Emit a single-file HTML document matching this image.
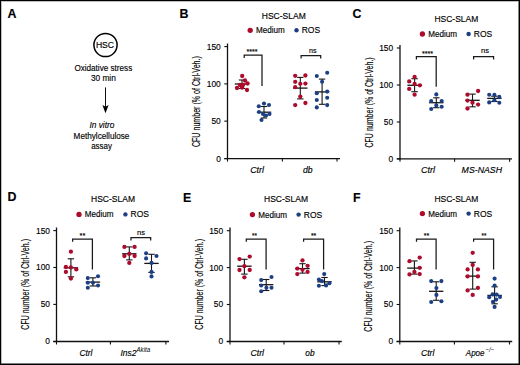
<!DOCTYPE html>
<html><head><meta charset="utf-8"><style>
html,body{margin:0;padding:0;background:#fff;}
svg{display:block;}
text{font-family:"Liberation Sans", sans-serif;stroke:currentColor;stroke-width:0.15px;}
</style></head><body>
<svg width="520" height="365" viewBox="0 0 520 365" font-family='"Liberation Sans", sans-serif'>
<rect x="0" y="0" width="520" height="365" fill="#fff"/>
<text x="7.40" y="18.20" font-size="12.4" font-weight="bold" >A</text>
<circle cx="105.5" cy="45.0" r="11.6" fill="none" stroke="#000" stroke-width="1.5"/>
<text x="95.90" y="48.30" font-size="8.8" textLength="18.20" lengthAdjust="spacingAndGlyphs" >HSC</text>
<text x="74.40" y="70.80" font-size="8.8" textLength="57.80" lengthAdjust="spacingAndGlyphs" >Oxidative stress</text>
<text x="90.90" y="81.30" font-size="8.8" textLength="24.90" lengthAdjust="spacingAndGlyphs" >30 min</text>
<line x1="105.50" y1="87.40" x2="105.50" y2="107.00" stroke="#111" stroke-width="1.0"/>
<polygon points="102.4,104.9 105.5,106.8 108.6,104.9 105.5,113.2" fill="#000"/>
<text x="89.40" y="128.40" font-size="8.8" textLength="25.00" lengthAdjust="spacingAndGlyphs" font-style="italic" >In vitro</text>
<text x="73.60" y="138.60" font-size="8.8" textLength="55.80" lengthAdjust="spacingAndGlyphs" >Methylcellulose</text>
<text x="91.20" y="148.60" font-size="8.8" textLength="20.80" lengthAdjust="spacingAndGlyphs" >assay</text>
<text x="179.60" y="17.90" font-size="12.4" font-weight="bold" >B</text>
<text x="261.80" y="18.60" font-size="8.6" textLength="44.00" lengthAdjust="spacingAndGlyphs" >HSC-SLAM</text>
<circle cx="250.20" cy="30.30" r="2.65" fill="#ad0a2c"/>
<text x="256.00" y="33.30" font-size="8.6" textLength="28.80" lengthAdjust="spacingAndGlyphs" >Medium</text>
<circle cx="296.50" cy="30.30" r="2.2" fill="#1c3f84"/>
<text x="301.70" y="33.30" font-size="8.6" textLength="18.40" lengthAdjust="spacingAndGlyphs" >ROS</text>
<line x1="227.50" y1="43.51" x2="227.50" y2="159.20" stroke="#111" stroke-width="1.3"/>
<line x1="224.30" y1="158.60" x2="340.00" y2="158.60" stroke="#111" stroke-width="1.3"/>
<line x1="224.30" y1="158.60" x2="227.50" y2="158.60" stroke="#111" stroke-width="1.1"/>
<text x="220.80" y="161.55" font-size="9.1" text-anchor="end" textLength="4.67" lengthAdjust="spacingAndGlyphs" >0</text>
<line x1="224.30" y1="121.14" x2="227.50" y2="121.14" stroke="#111" stroke-width="1.1"/>
<text x="220.80" y="124.09" font-size="9.1" text-anchor="end" textLength="9.34" lengthAdjust="spacingAndGlyphs" >50</text>
<line x1="224.30" y1="83.87" x2="227.50" y2="83.87" stroke="#111" stroke-width="1.1"/>
<text x="220.80" y="86.82" font-size="9.1" text-anchor="end" textLength="14.01" lengthAdjust="spacingAndGlyphs" >100</text>
<line x1="224.30" y1="46.61" x2="227.50" y2="46.61" stroke="#111" stroke-width="1.1"/>
<text x="220.80" y="49.56" font-size="9.1" text-anchor="end" textLength="14.01" lengthAdjust="spacingAndGlyphs" >150</text>
<line x1="227.50" y1="158.60" x2="227.50" y2="161.60" stroke="#111" stroke-width="1.1"/>
<line x1="282.40" y1="158.60" x2="282.40" y2="161.60" stroke="#111" stroke-width="1.1"/>
<line x1="337.00" y1="158.60" x2="337.00" y2="161.60" stroke="#111" stroke-width="1.1"/>
<text x="250.20" y="172.90" font-size="8.4" textLength="13.80" lengthAdjust="spacingAndGlyphs" font-style="italic" >Ctrl</text>
<text x="303.00" y="172.90" font-size="8.4" textLength="9.60" lengthAdjust="spacingAndGlyphs" font-style="italic" >db</text>
<text transform="translate(200.30,147.10) rotate(-90)" x="0" y="0" font-size="10.2" textLength="91.00" lengthAdjust="spacingAndGlyphs">CFU number (% of Ctrl-Veh.)</text>
<polyline points="244.20,58.00 244.20,55.10 262.00,55.10 262.00,86.00" fill="none" stroke="#1a1a1a" stroke-width="1.25"/>
<text x="246.40" y="54.30" font-size="7.5" textLength="11.00" lengthAdjust="spacingAndGlyphs" >****</text>
<polyline points="301.10,58.60 301.10,55.70 320.70,55.70 320.70,58.60" fill="none" stroke="#1a1a1a" stroke-width="1.25"/>
<text x="309.00" y="52.70" font-size="8.0" textLength="7.50" lengthAdjust="spacingAndGlyphs" >ns</text>
<line x1="242.00" y1="80.00" x2="242.00" y2="88.50" stroke="#161616" stroke-width="1.1"/>
<line x1="238.80" y1="80.00" x2="245.20" y2="80.00" stroke="#161616" stroke-width="1.1"/>
<line x1="238.80" y1="88.50" x2="245.20" y2="88.50" stroke="#161616" stroke-width="1.1"/>
<line x1="234.80" y1="84.00" x2="249.20" y2="84.00" stroke="#161616" stroke-width="1.3"/>
<circle cx="242.20" cy="76.00" r="2.15" fill="#ad0a2c"/>
<circle cx="245.00" cy="80.50" r="2.15" fill="#ad0a2c"/>
<circle cx="247.50" cy="83.50" r="2.15" fill="#ad0a2c"/>
<circle cx="237.00" cy="88.00" r="2.15" fill="#ad0a2c"/>
<circle cx="240.00" cy="85.00" r="2.15" fill="#ad0a2c"/>
<circle cx="243.00" cy="85.00" r="2.15" fill="#ad0a2c"/>
<circle cx="247.00" cy="90.00" r="2.15" fill="#ad0a2c"/>
<circle cx="242.00" cy="87.50" r="2.15" fill="#ad0a2c"/>
<line x1="264.00" y1="106.50" x2="264.00" y2="118.00" stroke="#161616" stroke-width="1.1"/>
<line x1="260.80" y1="106.50" x2="267.20" y2="106.50" stroke="#161616" stroke-width="1.1"/>
<line x1="260.80" y1="118.00" x2="267.20" y2="118.00" stroke="#161616" stroke-width="1.1"/>
<line x1="256.80" y1="112.20" x2="271.20" y2="112.20" stroke="#161616" stroke-width="1.3"/>
<circle cx="258.80" cy="106.20" r="2.05" fill="#1c3f84"/>
<circle cx="264.00" cy="103.50" r="2.05" fill="#1c3f84"/>
<circle cx="269.00" cy="105.00" r="2.05" fill="#1c3f84"/>
<circle cx="259.00" cy="112.00" r="2.05" fill="#1c3f84"/>
<circle cx="269.50" cy="114.00" r="2.05" fill="#1c3f84"/>
<circle cx="266.00" cy="115.50" r="2.05" fill="#1c3f84"/>
<circle cx="263.00" cy="114.00" r="2.05" fill="#1c3f84"/>
<circle cx="261.50" cy="120.00" r="2.05" fill="#1c3f84"/>
<line x1="300.30" y1="77.40" x2="300.30" y2="98.90" stroke="#161616" stroke-width="1.1"/>
<line x1="297.10" y1="77.40" x2="303.50" y2="77.40" stroke="#161616" stroke-width="1.1"/>
<line x1="297.10" y1="98.90" x2="303.50" y2="98.90" stroke="#161616" stroke-width="1.1"/>
<line x1="293.10" y1="88.10" x2="307.50" y2="88.10" stroke="#161616" stroke-width="1.3"/>
<circle cx="295.20" cy="75.80" r="2.15" fill="#ad0a2c"/>
<circle cx="305.40" cy="75.50" r="2.15" fill="#ad0a2c"/>
<circle cx="295.20" cy="81.80" r="2.15" fill="#ad0a2c"/>
<circle cx="300.30" cy="83.80" r="2.15" fill="#ad0a2c"/>
<circle cx="305.40" cy="83.60" r="2.15" fill="#ad0a2c"/>
<circle cx="295.20" cy="87.20" r="2.15" fill="#ad0a2c"/>
<circle cx="300.30" cy="96.60" r="2.15" fill="#ad0a2c"/>
<circle cx="305.40" cy="103.00" r="2.15" fill="#ad0a2c"/>
<circle cx="295.20" cy="105.10" r="2.15" fill="#ad0a2c"/>
<line x1="322.10" y1="79.10" x2="322.10" y2="104.30" stroke="#161616" stroke-width="1.1"/>
<line x1="318.90" y1="79.10" x2="325.30" y2="79.10" stroke="#161616" stroke-width="1.1"/>
<line x1="318.90" y1="104.30" x2="325.30" y2="104.30" stroke="#161616" stroke-width="1.1"/>
<line x1="314.90" y1="91.90" x2="329.30" y2="91.90" stroke="#161616" stroke-width="1.3"/>
<circle cx="316.80" cy="76.00" r="2.05" fill="#1c3f84"/>
<circle cx="327.20" cy="72.80" r="2.05" fill="#1c3f84"/>
<circle cx="322.10" cy="81.80" r="2.05" fill="#1c3f84"/>
<circle cx="316.80" cy="93.30" r="2.05" fill="#1c3f84"/>
<circle cx="327.20" cy="91.60" r="2.05" fill="#1c3f84"/>
<circle cx="327.20" cy="97.70" r="2.05" fill="#1c3f84"/>
<circle cx="316.80" cy="100.00" r="2.05" fill="#1c3f84"/>
<circle cx="327.20" cy="105.10" r="2.05" fill="#1c3f84"/>
<circle cx="316.80" cy="107.40" r="2.05" fill="#1c3f84"/>
<text x="352.40" y="18.20" font-size="12.4" font-weight="bold" >C</text>
<text x="434.40" y="22.00" font-size="8.6" textLength="44.00" lengthAdjust="spacingAndGlyphs" >HSC-SLAM</text>
<circle cx="422.40" cy="34.00" r="2.65" fill="#ad0a2c"/>
<text x="428.20" y="37.00" font-size="8.6" textLength="28.80" lengthAdjust="spacingAndGlyphs" >Medium</text>
<circle cx="468.60" cy="34.00" r="2.2" fill="#1c3f84"/>
<text x="473.80" y="37.00" font-size="8.6" textLength="18.40" lengthAdjust="spacingAndGlyphs" >ROS</text>
<line x1="400.00" y1="44.90" x2="400.00" y2="159.40" stroke="#111" stroke-width="1.3"/>
<line x1="396.80" y1="158.80" x2="512.00" y2="158.80" stroke="#111" stroke-width="1.3"/>
<line x1="396.80" y1="158.80" x2="400.00" y2="158.80" stroke="#111" stroke-width="1.1"/>
<text x="393.20" y="161.75" font-size="9.1" text-anchor="end" textLength="4.67" lengthAdjust="spacingAndGlyphs" >0</text>
<line x1="396.80" y1="122.00" x2="400.00" y2="122.00" stroke="#111" stroke-width="1.1"/>
<text x="393.20" y="124.95" font-size="9.1" text-anchor="end" textLength="9.34" lengthAdjust="spacingAndGlyphs" >50</text>
<line x1="396.80" y1="85.00" x2="400.00" y2="85.00" stroke="#111" stroke-width="1.1"/>
<text x="393.20" y="87.95" font-size="9.1" text-anchor="end" textLength="14.01" lengthAdjust="spacingAndGlyphs" >100</text>
<line x1="396.80" y1="48.00" x2="400.00" y2="48.00" stroke="#111" stroke-width="1.1"/>
<text x="393.20" y="50.95" font-size="9.1" text-anchor="end" textLength="14.01" lengthAdjust="spacingAndGlyphs" >150</text>
<line x1="400.00" y1="158.80" x2="400.00" y2="161.80" stroke="#111" stroke-width="1.1"/>
<line x1="454.60" y1="158.80" x2="454.60" y2="161.80" stroke="#111" stroke-width="1.1"/>
<line x1="509.60" y1="158.80" x2="509.60" y2="161.80" stroke="#111" stroke-width="1.1"/>
<text x="421.00" y="173.00" font-size="8.4" textLength="14.00" lengthAdjust="spacingAndGlyphs" font-style="italic" >Ctrl</text>
<text x="461.60" y="173.00" font-size="8.4" textLength="40.40" lengthAdjust="spacingAndGlyphs" font-style="italic" >MS-NASH</text>
<text transform="translate(372.70,147.50) rotate(-90)" x="0" y="0" font-size="10.2" textLength="90.20" lengthAdjust="spacingAndGlyphs">CFU number (% of Ctrl-Veh.)</text>
<polyline points="416.40,59.60 416.40,56.50 436.20,56.50 436.20,86.70" fill="none" stroke="#1a1a1a" stroke-width="1.25"/>
<text x="422.00" y="55.60" font-size="7.5" textLength="11.00" lengthAdjust="spacingAndGlyphs" >****</text>
<polyline points="473.60,59.40 473.60,56.60 493.60,56.60 493.60,59.40" fill="none" stroke="#1a1a1a" stroke-width="1.25"/>
<text x="481.00" y="52.90" font-size="8.0" textLength="8.00" lengthAdjust="spacingAndGlyphs" >ns</text>
<line x1="414.60" y1="78.70" x2="414.60" y2="91.70" stroke="#161616" stroke-width="1.1"/>
<line x1="411.40" y1="78.70" x2="417.80" y2="78.70" stroke="#161616" stroke-width="1.1"/>
<line x1="411.40" y1="91.70" x2="417.80" y2="91.70" stroke="#161616" stroke-width="1.1"/>
<line x1="407.40" y1="85.30" x2="421.80" y2="85.30" stroke="#161616" stroke-width="1.3"/>
<circle cx="414.60" cy="76.90" r="2.15" fill="#ad0a2c"/>
<circle cx="409.20" cy="81.40" r="2.15" fill="#ad0a2c"/>
<circle cx="414.60" cy="84.00" r="2.15" fill="#ad0a2c"/>
<circle cx="419.90" cy="85.30" r="2.15" fill="#ad0a2c"/>
<circle cx="409.20" cy="88.90" r="2.15" fill="#ad0a2c"/>
<circle cx="414.60" cy="94.70" r="2.15" fill="#ad0a2c"/>
<line x1="436.30" y1="97.80" x2="436.30" y2="107.70" stroke="#161616" stroke-width="1.1"/>
<line x1="433.10" y1="97.80" x2="439.50" y2="97.80" stroke="#161616" stroke-width="1.1"/>
<line x1="433.10" y1="107.70" x2="439.50" y2="107.70" stroke="#161616" stroke-width="1.1"/>
<line x1="429.10" y1="102.70" x2="443.50" y2="102.70" stroke="#161616" stroke-width="1.3"/>
<circle cx="436.30" cy="94.40" r="2.05" fill="#1c3f84"/>
<circle cx="431.20" cy="101.00" r="2.05" fill="#1c3f84"/>
<circle cx="441.70" cy="101.00" r="2.05" fill="#1c3f84"/>
<circle cx="436.30" cy="105.40" r="2.05" fill="#1c3f84"/>
<circle cx="441.70" cy="106.70" r="2.05" fill="#1c3f84"/>
<circle cx="431.20" cy="109.00" r="2.05" fill="#1c3f84"/>
<line x1="472.50" y1="94.10" x2="472.50" y2="106.80" stroke="#161616" stroke-width="1.1"/>
<line x1="469.30" y1="94.10" x2="475.70" y2="94.10" stroke="#161616" stroke-width="1.1"/>
<line x1="469.30" y1="106.80" x2="475.70" y2="106.80" stroke="#161616" stroke-width="1.1"/>
<line x1="465.30" y1="100.30" x2="479.70" y2="100.30" stroke="#161616" stroke-width="1.3"/>
<circle cx="478.10" cy="91.00" r="2.15" fill="#ad0a2c"/>
<circle cx="467.50" cy="94.70" r="2.15" fill="#ad0a2c"/>
<circle cx="467.50" cy="100.60" r="2.15" fill="#ad0a2c"/>
<circle cx="472.50" cy="102.70" r="2.15" fill="#ad0a2c"/>
<circle cx="478.10" cy="104.60" r="2.15" fill="#ad0a2c"/>
<circle cx="467.50" cy="108.50" r="2.15" fill="#ad0a2c"/>
<line x1="494.40" y1="96.20" x2="494.40" y2="101.50" stroke="#161616" stroke-width="1.1"/>
<line x1="491.20" y1="96.20" x2="497.60" y2="96.20" stroke="#161616" stroke-width="1.1"/>
<line x1="491.20" y1="101.50" x2="497.60" y2="101.50" stroke="#161616" stroke-width="1.1"/>
<line x1="487.20" y1="98.40" x2="501.60" y2="98.40" stroke="#161616" stroke-width="1.3"/>
<circle cx="489.20" cy="94.70" r="2.05" fill="#1c3f84"/>
<circle cx="494.40" cy="94.70" r="2.05" fill="#1c3f84"/>
<circle cx="499.30" cy="96.90" r="2.05" fill="#1c3f84"/>
<circle cx="494.40" cy="100.30" r="2.05" fill="#1c3f84"/>
<circle cx="489.20" cy="102.40" r="2.05" fill="#1c3f84"/>
<circle cx="499.30" cy="102.70" r="2.05" fill="#1c3f84"/>
<text x="7.60" y="201.40" font-size="12.4" font-weight="bold" >D</text>
<text x="91.00" y="201.60" font-size="8.6" textLength="44.00" lengthAdjust="spacingAndGlyphs" >HSC-SLAM</text>
<circle cx="79.00" cy="214.40" r="2.65" fill="#ad0a2c"/>
<text x="84.80" y="217.40" font-size="8.6" textLength="28.80" lengthAdjust="spacingAndGlyphs" >Medium</text>
<circle cx="125.40" cy="214.40" r="2.2" fill="#1c3f84"/>
<text x="130.60" y="217.40" font-size="8.6" textLength="18.40" lengthAdjust="spacingAndGlyphs" >ROS</text>
<line x1="56.50" y1="227.50" x2="56.50" y2="342.10" stroke="#111" stroke-width="1.3"/>
<line x1="53.30" y1="341.50" x2="169.00" y2="341.50" stroke="#111" stroke-width="1.3"/>
<line x1="53.30" y1="341.50" x2="56.50" y2="341.50" stroke="#111" stroke-width="1.1"/>
<text x="50.00" y="344.45" font-size="9.1" text-anchor="end" textLength="4.67" lengthAdjust="spacingAndGlyphs" >0</text>
<line x1="53.30" y1="304.40" x2="56.50" y2="304.40" stroke="#111" stroke-width="1.1"/>
<text x="50.00" y="307.35" font-size="9.1" text-anchor="end" textLength="9.34" lengthAdjust="spacingAndGlyphs" >50</text>
<line x1="53.30" y1="267.50" x2="56.50" y2="267.50" stroke="#111" stroke-width="1.1"/>
<text x="50.00" y="270.45" font-size="9.1" text-anchor="end" textLength="14.01" lengthAdjust="spacingAndGlyphs" >100</text>
<line x1="53.30" y1="230.60" x2="56.50" y2="230.60" stroke="#111" stroke-width="1.1"/>
<text x="50.00" y="233.55" font-size="9.1" text-anchor="end" textLength="14.01" lengthAdjust="spacingAndGlyphs" >150</text>
<line x1="56.50" y1="341.50" x2="56.50" y2="344.50" stroke="#111" stroke-width="1.1"/>
<line x1="110.40" y1="341.50" x2="110.40" y2="344.50" stroke="#111" stroke-width="1.1"/>
<line x1="165.90" y1="341.50" x2="165.90" y2="344.50" stroke="#111" stroke-width="1.1"/>
<text x="79.40" y="355.90" font-size="8.4" textLength="13.00" lengthAdjust="spacingAndGlyphs" font-style="italic" >Ctrl</text>
<text x="120.50" y="355.90" font-size="8.4" textLength="16.00" lengthAdjust="spacingAndGlyphs" font-style="italic" >Ins2</text>
<text x="136.40" y="352.00" font-size="6.3" textLength="13.80" lengthAdjust="spacingAndGlyphs" font-style="italic" style="stroke-width:0">Akita</text>
<text transform="translate(28.60,329.70) rotate(-90)" x="0" y="0" font-size="10.2" textLength="90.70" lengthAdjust="spacingAndGlyphs">CFU number (% of Ctrl-Veh.)</text>
<polyline points="72.60,241.70 72.60,239.20 92.40,239.20 92.40,269.40" fill="none" stroke="#1a1a1a" stroke-width="1.25"/>
<text x="79.60" y="238.10" font-size="7.5" textLength="5.70" lengthAdjust="spacingAndGlyphs" >**</text>
<polyline points="131.00,240.40 131.00,237.60 150.70,237.60 150.70,240.40" fill="none" stroke="#1a1a1a" stroke-width="1.25"/>
<text x="137.00" y="235.20" font-size="8.0" textLength="8.00" lengthAdjust="spacingAndGlyphs" >ns</text>
<line x1="70.90" y1="258.80" x2="70.90" y2="276.80" stroke="#161616" stroke-width="1.1"/>
<line x1="67.70" y1="258.80" x2="74.10" y2="258.80" stroke="#161616" stroke-width="1.1"/>
<line x1="67.70" y1="276.80" x2="74.10" y2="276.80" stroke="#161616" stroke-width="1.1"/>
<line x1="63.70" y1="267.80" x2="78.10" y2="267.80" stroke="#161616" stroke-width="1.3"/>
<circle cx="70.90" cy="251.70" r="2.15" fill="#ad0a2c"/>
<circle cx="65.90" cy="267.00" r="2.15" fill="#ad0a2c"/>
<circle cx="70.90" cy="267.50" r="2.15" fill="#ad0a2c"/>
<circle cx="76.30" cy="269.40" r="2.15" fill="#ad0a2c"/>
<circle cx="65.90" cy="271.90" r="2.15" fill="#ad0a2c"/>
<circle cx="70.90" cy="278.50" r="2.15" fill="#ad0a2c"/>
<line x1="92.90" y1="277.80" x2="92.90" y2="286.00" stroke="#161616" stroke-width="1.1"/>
<line x1="89.70" y1="277.80" x2="96.10" y2="277.80" stroke="#161616" stroke-width="1.1"/>
<line x1="89.70" y1="286.00" x2="96.10" y2="286.00" stroke="#161616" stroke-width="1.1"/>
<line x1="85.70" y1="282.10" x2="100.10" y2="282.10" stroke="#161616" stroke-width="1.3"/>
<circle cx="98.00" cy="276.20" r="2.05" fill="#1c3f84"/>
<circle cx="87.80" cy="278.10" r="2.05" fill="#1c3f84"/>
<circle cx="87.80" cy="282.70" r="2.05" fill="#1c3f84"/>
<circle cx="93.00" cy="282.70" r="2.05" fill="#1c3f84"/>
<circle cx="98.00" cy="285.50" r="2.05" fill="#1c3f84"/>
<circle cx="87.80" cy="287.70" r="2.05" fill="#1c3f84"/>
<line x1="129.30" y1="246.90" x2="129.30" y2="259.90" stroke="#161616" stroke-width="1.1"/>
<line x1="126.10" y1="246.90" x2="132.50" y2="246.90" stroke="#161616" stroke-width="1.1"/>
<line x1="126.10" y1="259.90" x2="132.50" y2="259.90" stroke="#161616" stroke-width="1.1"/>
<line x1="122.10" y1="253.80" x2="136.50" y2="253.80" stroke="#161616" stroke-width="1.3"/>
<circle cx="124.40" cy="246.90" r="2.15" fill="#ad0a2c"/>
<circle cx="134.60" cy="246.90" r="2.15" fill="#ad0a2c"/>
<circle cx="129.30" cy="253.80" r="2.15" fill="#ad0a2c"/>
<circle cx="124.40" cy="256.00" r="2.15" fill="#ad0a2c"/>
<circle cx="134.60" cy="256.00" r="2.15" fill="#ad0a2c"/>
<circle cx="129.30" cy="262.90" r="2.15" fill="#ad0a2c"/>
<line x1="151.50" y1="254.30" x2="151.50" y2="272.40" stroke="#161616" stroke-width="1.1"/>
<line x1="148.30" y1="254.30" x2="154.70" y2="254.30" stroke="#161616" stroke-width="1.1"/>
<line x1="148.30" y1="272.40" x2="154.70" y2="272.40" stroke="#161616" stroke-width="1.1"/>
<line x1="144.30" y1="263.40" x2="158.70" y2="263.40" stroke="#161616" stroke-width="1.3"/>
<circle cx="146.10" cy="253.30" r="2.05" fill="#1c3f84"/>
<circle cx="156.50" cy="256.00" r="2.05" fill="#1c3f84"/>
<circle cx="146.10" cy="258.40" r="2.05" fill="#1c3f84"/>
<circle cx="151.50" cy="262.90" r="2.05" fill="#1c3f84"/>
<circle cx="151.50" cy="271.90" r="2.05" fill="#1c3f84"/>
<circle cx="151.50" cy="276.40" r="2.05" fill="#1c3f84"/>
<text x="183.00" y="201.60" font-size="12.4" font-weight="bold" >E</text>
<text x="264.00" y="201.60" font-size="8.6" textLength="44.00" lengthAdjust="spacingAndGlyphs" >HSC-SLAM</text>
<circle cx="252.40" cy="214.60" r="2.65" fill="#ad0a2c"/>
<text x="258.20" y="217.60" font-size="8.6" textLength="28.80" lengthAdjust="spacingAndGlyphs" >Medium</text>
<circle cx="298.60" cy="214.60" r="2.2" fill="#1c3f84"/>
<text x="303.80" y="217.60" font-size="8.6" textLength="18.40" lengthAdjust="spacingAndGlyphs" >ROS</text>
<line x1="230.00" y1="227.60" x2="230.00" y2="342.10" stroke="#111" stroke-width="1.3"/>
<line x1="226.80" y1="341.50" x2="341.80" y2="341.50" stroke="#111" stroke-width="1.3"/>
<line x1="226.80" y1="341.50" x2="230.00" y2="341.50" stroke="#111" stroke-width="1.1"/>
<text x="223.20" y="344.45" font-size="9.1" text-anchor="end" textLength="4.67" lengthAdjust="spacingAndGlyphs" >0</text>
<line x1="226.80" y1="304.50" x2="230.00" y2="304.50" stroke="#111" stroke-width="1.1"/>
<text x="223.20" y="307.45" font-size="9.1" text-anchor="end" textLength="9.34" lengthAdjust="spacingAndGlyphs" >50</text>
<line x1="226.80" y1="267.60" x2="230.00" y2="267.60" stroke="#111" stroke-width="1.1"/>
<text x="223.20" y="270.55" font-size="9.1" text-anchor="end" textLength="14.01" lengthAdjust="spacingAndGlyphs" >100</text>
<line x1="226.80" y1="230.70" x2="230.00" y2="230.70" stroke="#111" stroke-width="1.1"/>
<text x="223.20" y="233.65" font-size="9.1" text-anchor="end" textLength="14.01" lengthAdjust="spacingAndGlyphs" >150</text>
<line x1="230.00" y1="341.50" x2="230.00" y2="344.50" stroke="#111" stroke-width="1.1"/>
<line x1="284.00" y1="341.50" x2="284.00" y2="344.50" stroke="#111" stroke-width="1.1"/>
<line x1="339.00" y1="341.50" x2="339.00" y2="344.50" stroke="#111" stroke-width="1.1"/>
<text x="250.40" y="355.90" font-size="8.4" textLength="13.60" lengthAdjust="spacingAndGlyphs" font-style="italic" >Ctrl</text>
<text x="305.30" y="355.70" font-size="8.4" textLength="9.20" lengthAdjust="spacingAndGlyphs" font-style="italic" >ob</text>
<text transform="translate(202.70,329.70) rotate(-90)" x="0" y="0" font-size="10.2" textLength="90.70" lengthAdjust="spacingAndGlyphs">CFU number (% of Ctrl-Veh.)</text>
<polyline points="246.30,241.80 246.30,239.20 266.10,239.20 266.10,269.50" fill="none" stroke="#1a1a1a" stroke-width="1.25"/>
<text x="252.10" y="238.40" font-size="7.5" textLength="4.90" lengthAdjust="spacingAndGlyphs" >**</text>
<polyline points="303.60,241.80 303.60,239.10 323.60,239.10 323.60,269.50" fill="none" stroke="#1a1a1a" stroke-width="1.25"/>
<text x="310.90" y="238.10" font-size="7.5" textLength="5.30" lengthAdjust="spacingAndGlyphs" >**</text>
<line x1="244.40" y1="259.30" x2="244.40" y2="274.10" stroke="#161616" stroke-width="1.1"/>
<line x1="241.20" y1="259.30" x2="247.60" y2="259.30" stroke="#161616" stroke-width="1.1"/>
<line x1="241.20" y1="274.10" x2="247.60" y2="274.10" stroke="#161616" stroke-width="1.1"/>
<line x1="237.20" y1="266.20" x2="251.60" y2="266.20" stroke="#161616" stroke-width="1.3"/>
<circle cx="239.50" cy="259.10" r="2.15" fill="#ad0a2c"/>
<circle cx="249.70" cy="256.60" r="2.15" fill="#ad0a2c"/>
<circle cx="244.40" cy="266.20" r="2.15" fill="#ad0a2c"/>
<circle cx="239.50" cy="270.00" r="2.15" fill="#ad0a2c"/>
<circle cx="249.70" cy="270.00" r="2.15" fill="#ad0a2c"/>
<circle cx="244.40" cy="277.30" r="2.15" fill="#ad0a2c"/>
<line x1="266.20" y1="279.50" x2="266.20" y2="290.50" stroke="#161616" stroke-width="1.1"/>
<line x1="263.00" y1="279.50" x2="269.40" y2="279.50" stroke="#161616" stroke-width="1.1"/>
<line x1="263.00" y1="290.50" x2="269.40" y2="290.50" stroke="#161616" stroke-width="1.1"/>
<line x1="259.00" y1="284.70" x2="273.40" y2="284.70" stroke="#161616" stroke-width="1.3"/>
<circle cx="271.50" cy="277.00" r="2.05" fill="#1c3f84"/>
<circle cx="261.20" cy="280.10" r="2.05" fill="#1c3f84"/>
<circle cx="261.20" cy="285.50" r="2.05" fill="#1c3f84"/>
<circle cx="266.40" cy="287.70" r="2.05" fill="#1c3f84"/>
<circle cx="271.50" cy="287.70" r="2.05" fill="#1c3f84"/>
<circle cx="261.20" cy="291.30" r="2.05" fill="#1c3f84"/>
<line x1="302.50" y1="263.70" x2="302.50" y2="273.10" stroke="#161616" stroke-width="1.1"/>
<line x1="299.30" y1="263.70" x2="305.70" y2="263.70" stroke="#161616" stroke-width="1.1"/>
<line x1="299.30" y1="273.10" x2="305.70" y2="273.10" stroke="#161616" stroke-width="1.1"/>
<line x1="295.30" y1="268.60" x2="309.70" y2="268.60" stroke="#161616" stroke-width="1.3"/>
<circle cx="302.50" cy="260.40" r="2.15" fill="#ad0a2c"/>
<circle cx="307.60" cy="265.80" r="2.15" fill="#ad0a2c"/>
<circle cx="297.30" cy="268.60" r="2.15" fill="#ad0a2c"/>
<circle cx="302.50" cy="269.80" r="2.15" fill="#ad0a2c"/>
<circle cx="307.60" cy="271.90" r="2.15" fill="#ad0a2c"/>
<circle cx="297.30" cy="274.10" r="2.15" fill="#ad0a2c"/>
<line x1="324.50" y1="277.50" x2="324.50" y2="285.60" stroke="#161616" stroke-width="1.1"/>
<line x1="321.30" y1="277.50" x2="327.70" y2="277.50" stroke="#161616" stroke-width="1.1"/>
<line x1="321.30" y1="285.60" x2="327.70" y2="285.60" stroke="#161616" stroke-width="1.1"/>
<line x1="317.30" y1="281.80" x2="331.70" y2="281.80" stroke="#161616" stroke-width="1.3"/>
<circle cx="324.20" cy="274.10" r="2.05" fill="#1c3f84"/>
<circle cx="318.90" cy="279.50" r="2.05" fill="#1c3f84"/>
<circle cx="321.90" cy="281.10" r="2.05" fill="#1c3f84"/>
<circle cx="329.40" cy="283.20" r="2.05" fill="#1c3f84"/>
<circle cx="326.10" cy="285.40" r="2.05" fill="#1c3f84"/>
<circle cx="318.90" cy="285.80" r="2.05" fill="#1c3f84"/>
<text x="353.00" y="201.60" font-size="12.4" font-weight="bold" >F</text>
<text x="434.40" y="201.60" font-size="8.6" textLength="44.00" lengthAdjust="spacingAndGlyphs" >HSC-SLAM</text>
<circle cx="422.40" cy="213.60" r="2.65" fill="#ad0a2c"/>
<text x="428.20" y="216.60" font-size="8.6" textLength="28.80" lengthAdjust="spacingAndGlyphs" >Medium</text>
<circle cx="468.60" cy="213.60" r="2.2" fill="#1c3f84"/>
<text x="473.80" y="216.60" font-size="8.6" textLength="18.40" lengthAdjust="spacingAndGlyphs" >ROS</text>
<line x1="399.80" y1="227.60" x2="399.80" y2="342.10" stroke="#111" stroke-width="1.3"/>
<line x1="396.60" y1="341.50" x2="512.20" y2="341.50" stroke="#111" stroke-width="1.3"/>
<line x1="396.60" y1="341.50" x2="399.80" y2="341.50" stroke="#111" stroke-width="1.1"/>
<text x="393.20" y="344.45" font-size="9.1" text-anchor="end" textLength="4.67" lengthAdjust="spacingAndGlyphs" >0</text>
<line x1="396.60" y1="304.50" x2="399.80" y2="304.50" stroke="#111" stroke-width="1.1"/>
<text x="393.20" y="307.45" font-size="9.1" text-anchor="end" textLength="9.34" lengthAdjust="spacingAndGlyphs" >50</text>
<line x1="396.60" y1="267.60" x2="399.80" y2="267.60" stroke="#111" stroke-width="1.1"/>
<text x="393.20" y="270.55" font-size="9.1" text-anchor="end" textLength="14.01" lengthAdjust="spacingAndGlyphs" >100</text>
<line x1="396.60" y1="230.70" x2="399.80" y2="230.70" stroke="#111" stroke-width="1.1"/>
<text x="393.20" y="233.65" font-size="9.1" text-anchor="end" textLength="14.01" lengthAdjust="spacingAndGlyphs" >150</text>
<line x1="399.80" y1="341.50" x2="399.80" y2="344.50" stroke="#111" stroke-width="1.1"/>
<line x1="454.40" y1="341.50" x2="454.40" y2="344.50" stroke="#111" stroke-width="1.1"/>
<line x1="509.50" y1="341.50" x2="509.50" y2="344.50" stroke="#111" stroke-width="1.1"/>
<text x="421.00" y="355.90" font-size="8.4" textLength="13.40" lengthAdjust="spacingAndGlyphs" font-style="italic" >Ctrl</text>
<text x="465.80" y="355.70" font-size="8.4" textLength="18.70" lengthAdjust="spacingAndGlyphs" font-style="italic" >Apoe</text>
<text x="485.60" y="352.30" font-size="6.3" textLength="8.70" lengthAdjust="spacingAndGlyphs" font-style="italic" style="stroke-width:0">−/−</text>
<text transform="translate(372.30,331.70) rotate(-90)" x="0" y="0" font-size="10.2" textLength="90.70" lengthAdjust="spacingAndGlyphs">CFU number (% of Ctrl-Veh.)</text>
<polyline points="416.50,241.70 416.50,239.10 436.10,239.10 436.10,269.50" fill="none" stroke="#1a1a1a" stroke-width="1.25"/>
<text x="423.80" y="238.00" font-size="7.5" textLength="5.40" lengthAdjust="spacingAndGlyphs" >**</text>
<polyline points="473.60,241.70 473.60,239.10 493.60,239.10 493.60,269.50" fill="none" stroke="#1a1a1a" stroke-width="1.25"/>
<text x="481.60" y="238.00" font-size="7.5" textLength="4.80" lengthAdjust="spacingAndGlyphs" >**</text>
<line x1="414.40" y1="260.90" x2="414.40" y2="274.10" stroke="#161616" stroke-width="1.1"/>
<line x1="411.20" y1="260.90" x2="417.60" y2="260.90" stroke="#161616" stroke-width="1.1"/>
<line x1="411.20" y1="274.10" x2="417.60" y2="274.10" stroke="#161616" stroke-width="1.1"/>
<line x1="407.20" y1="268.10" x2="421.60" y2="268.10" stroke="#161616" stroke-width="1.3"/>
<circle cx="419.70" cy="257.60" r="2.15" fill="#ad0a2c"/>
<circle cx="409.50" cy="261.20" r="2.15" fill="#ad0a2c"/>
<circle cx="419.70" cy="267.80" r="2.15" fill="#ad0a2c"/>
<circle cx="414.40" cy="271.90" r="2.15" fill="#ad0a2c"/>
<circle cx="409.50" cy="274.40" r="2.15" fill="#ad0a2c"/>
<circle cx="419.70" cy="274.10" r="2.15" fill="#ad0a2c"/>
<line x1="436.20" y1="281.80" x2="436.20" y2="300.30" stroke="#161616" stroke-width="1.1"/>
<line x1="433.00" y1="281.80" x2="439.40" y2="281.80" stroke="#161616" stroke-width="1.1"/>
<line x1="433.00" y1="300.30" x2="439.40" y2="300.30" stroke="#161616" stroke-width="1.1"/>
<line x1="429.00" y1="291.30" x2="443.40" y2="291.30" stroke="#161616" stroke-width="1.3"/>
<circle cx="431.20" cy="281.10" r="2.05" fill="#1c3f84"/>
<circle cx="441.40" cy="281.10" r="2.05" fill="#1c3f84"/>
<circle cx="436.40" cy="288.00" r="2.05" fill="#1c3f84"/>
<circle cx="436.40" cy="294.90" r="2.05" fill="#1c3f84"/>
<circle cx="431.20" cy="302.00" r="2.05" fill="#1c3f84"/>
<circle cx="441.40" cy="301.20" r="2.05" fill="#1c3f84"/>
<line x1="472.70" y1="262.30" x2="472.70" y2="289.10" stroke="#161616" stroke-width="1.1"/>
<line x1="469.50" y1="262.30" x2="475.90" y2="262.30" stroke="#161616" stroke-width="1.1"/>
<line x1="469.50" y1="289.10" x2="475.90" y2="289.10" stroke="#161616" stroke-width="1.1"/>
<line x1="465.50" y1="276.10" x2="479.90" y2="276.10" stroke="#161616" stroke-width="1.3"/>
<circle cx="472.70" cy="252.80" r="2.15" fill="#ad0a2c"/>
<circle cx="472.70" cy="264.90" r="2.15" fill="#ad0a2c"/>
<circle cx="467.60" cy="269.40" r="2.15" fill="#ad0a2c"/>
<circle cx="477.90" cy="269.40" r="2.15" fill="#ad0a2c"/>
<circle cx="467.60" cy="276.40" r="2.15" fill="#ad0a2c"/>
<circle cx="477.90" cy="276.40" r="2.15" fill="#ad0a2c"/>
<circle cx="477.90" cy="287.90" r="2.15" fill="#ad0a2c"/>
<circle cx="467.60" cy="290.40" r="2.15" fill="#ad0a2c"/>
<circle cx="472.70" cy="294.90" r="2.15" fill="#ad0a2c"/>
<line x1="494.60" y1="286.80" x2="494.60" y2="303.80" stroke="#161616" stroke-width="1.1"/>
<line x1="491.40" y1="286.80" x2="497.80" y2="286.80" stroke="#161616" stroke-width="1.1"/>
<line x1="491.40" y1="303.80" x2="497.80" y2="303.80" stroke="#161616" stroke-width="1.1"/>
<line x1="487.40" y1="295.40" x2="501.80" y2="295.40" stroke="#161616" stroke-width="1.3"/>
<circle cx="494.60" cy="278.60" r="2.05" fill="#1c3f84"/>
<circle cx="494.60" cy="285.60" r="2.05" fill="#1c3f84"/>
<circle cx="492.60" cy="294.40" r="2.05" fill="#1c3f84"/>
<circle cx="496.60" cy="294.60" r="2.05" fill="#1c3f84"/>
<circle cx="489.20" cy="297.20" r="2.05" fill="#1c3f84"/>
<circle cx="500.00" cy="297.00" r="2.05" fill="#1c3f84"/>
<circle cx="496.20" cy="299.60" r="2.05" fill="#1c3f84"/>
<circle cx="493.00" cy="301.80" r="2.05" fill="#1c3f84"/>
<circle cx="494.60" cy="306.90" r="2.05" fill="#1c3f84"/>
<rect x="0.5" y="0.5" width="519" height="364" fill="none" stroke="#000" stroke-width="1"/>
<rect x="1.5" y="1.5" width="517" height="362" fill="none" stroke="#000" stroke-opacity="0.25" stroke-width="1"/>
<line x1="1" y1="363.5" x2="519" y2="363.5" stroke="#000" stroke-opacity="0.35"/>
<line x1="518.5" y1="1" x2="518.5" y2="364" stroke="#000" stroke-opacity="0.3"/>
</svg>
</body></html>
